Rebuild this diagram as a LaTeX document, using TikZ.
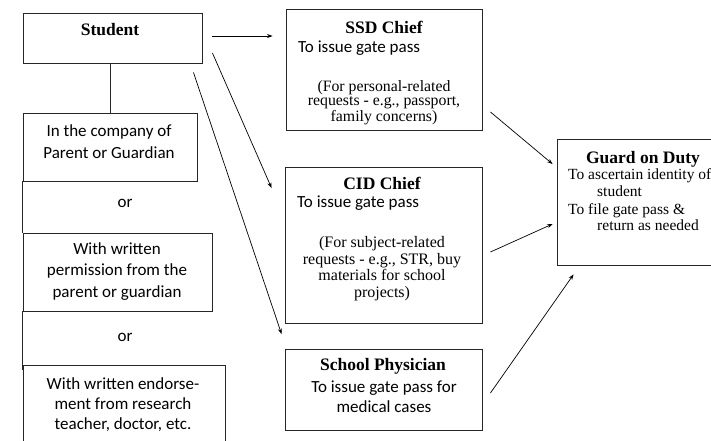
\documentclass[tikz,border=0pt]{standalone}
\usepackage{fontspec}
\setmainfont{Liberation Serif}
\newfontfamily\calfont{Carlito}
\usetikzlibrary{arrows.meta}

\tikzset{
  box/.style={draw=black!85, line width=0.9pt, inner sep=0pt},
  title/.style={font=\fontsize{17.5}{20}\selectfont\bfseries, inner sep=0pt},
  sans/.style={font=\calfont\fontsize{17}{21}\selectfont, inner sep=0pt, align=center},
  serif/.style={font=\fontsize{15.8}{14.5}\selectfont, inner sep=0pt, align=center},
  guardline/.style={font=\fontsize{15.5}{16}\selectfont, inner sep=0pt, anchor=base west},
  link/.style={line width=0.7pt, -{Stealth[length=5.5pt,width=4pt]}},
  plain/.style={line width=0.9pt, draw=black!85},
}

\begin{document}
\begin{tikzpicture}[x=1pt,y=-1pt]
\clip (0,0) rectangle (711,440);
\fill[white] (0,0) rectangle (711,440);

% left column: the student and the three conditions
\node[box, minimum width=179pt, minimum height=50pt] (student) at (112.5,38) {};
\node[title] (studentT) at (110,30) {Student};

\node[box, minimum width=174pt, minimum height=68pt] (company) at (110,147) {};
\node[sans, font=\calfont\fontsize{17}{22}\selectfont] (companyT) at (109,142) {In the company of\\Parent or Guardian};

\node[sans] (or1) at (125,203) {or};

\node[box, minimum width=189pt, minimum height=78pt] (permit) at (117.5,272) {};
\node[sans, font=\calfont\fontsize{17}{21.5}\selectfont] (permitT) at (117,271.5) {With written\\permission from the\\parent or guardian};

\node[sans] (or2) at (125,337) {or};

\node[box, minimum width=202pt, minimum height=80pt] (endorse) at (124,405) {};
\node[sans, font=\calfont\fontsize{17}{20}\selectfont] (endorseT) at (123,405) {With written endorse-\\ment from research\\teacher, doctor, etc.};

% middle column: the offices that issue gate passes
\node[box, minimum width=196pt, minimum height=121pt] (ssd) at (384,69.5) {};
\node[title] (ssdT) at (384,27) {SSD Chief};
\node[sans, anchor=west] (ssdS) at (298,48) {To issue gate pass};
\node[serif] (ssdP) at (384,102.5) {(For personal-related\\requests - e.g., passport,\\family concerns)};

\node[box, minimum width=197pt, minimum height=156pt] (cid) at (383.5,245) {};
\node[title] (cidT) at (382,183) {CID Chief};
\node[sans, anchor=west] (cidS) at (297,203) {To issue gate pass};
\node[serif, font=\fontsize{16}{16.5}\selectfont] (cidP) at (382,268.5) {(For subject-related\\requests - e.g., STR, buy\\materials for school\\projects)};

\node[box, minimum width=197pt, minimum height=81pt] (phys) at (383.5,389.5) {};
\node[title] (physT) at (383,366) {School Physician};
\node[sans, font=\calfont\fontsize{17}{20}\selectfont] (physS) at (384,397) {To issue gate pass for\\medical cases};

% right column: guard on duty
\node[box, minimum width=203pt, minimum height=126pt] (guard) at (658.5,202) {};
\node[title, anchor=base] (guardT) at (643,163) {Guard on Duty};
\node[guardline] (guardA) at (568,179.5) {To ascertain identity of};
\node[guardline] (guardB) at (597,196) {student};
\node[guardline] (guardC) at (568,214) {To file gate pass \&};
\node[guardline] (guardD) at (597,230) {return as needed};

% plain connectors of the left column
\draw[plain] (student.south -| company.north) -- (company.north);
\draw[plain] (company.south west) -- (permit.north west);
\draw[plain] (permit.south west) -- ([yshift=-5pt]endorse.north west);

% arrows
\draw[link] ([shift={(10,-2)}]student.east) -- ([shift={(-13,-33.5)}]ssd.west);
\draw[link] ([shift={(10,15)}]student.east) -- ([shift={(-13,-57)}]cid.west);
\draw[link] ([shift={(-9,9)}]student.south east) -- ([shift={(-3,-55.5)}]phys.west);
\draw[link] ([shift={(8,42.5)}]ssd.east) -- ([shift={(-4,-38)}]guard.west);
\draw[link] ([shift={(8,7)}]cid.east) -- ([shift={(-4,22)}]guard.west);
\draw[link] ([shift={(8,3.5)}]phys.east) -- ([shift={(17,9)}]guard.south west);
\end{tikzpicture}
\end{document}
